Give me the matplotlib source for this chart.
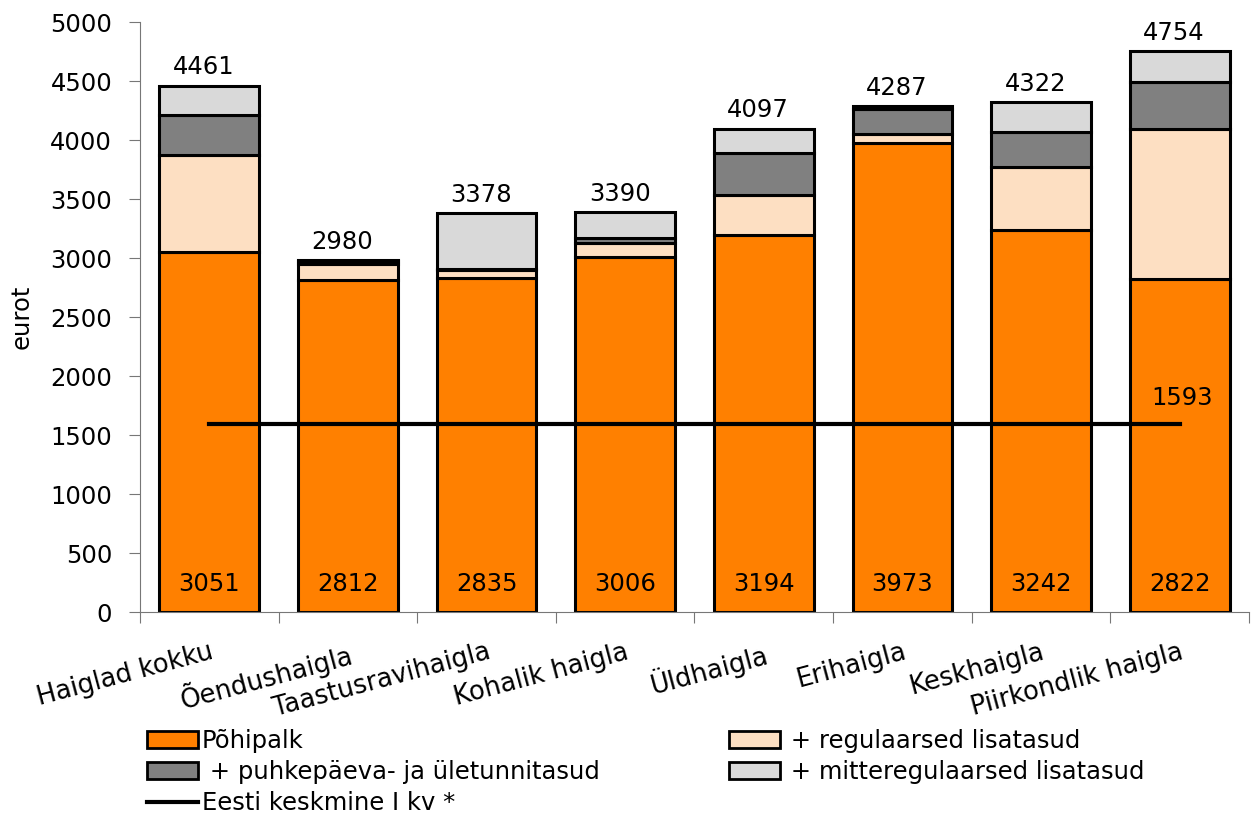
import numpy as np
import matplotlib
matplotlib.use("Agg")
from matplotlib import pyplot as plt
from matplotlib.patches import Patch
from matplotlib.lines import Line2D

# haiglate keskmine brutokuupalk komponentide kaupa
haiglad = ["Haiglad kokku", "Õendushaigla", "Taastusravihaigla", "Kohalik haigla",
           "Üldhaigla", "Erihaigla", "Keskhaigla", "Piirkondlik haigla"]
pohipalk = [3051, 2812, 2835, 3006, 3194, 3973, 3242, 2822]
regulaarsed = [822, 140, 65, 120, 340, 75, 532, 1274]
puhkepaeva = [339, 20, 10, 44, 358, 215, 291, 393]
kokku = [4461, 2980, 3378, 3390, 4097, 4287, 4322, 4754]
mitteregulaarsed = [k - p - r - u for k, p, r, u in zip(kokku, pohipalk, regulaarsed, puhkepaeva)]
eesti_keskmine = 1593

plt.rcParams["font.family"] = ["DejaVu Sans"]
fs = 17.5

fig = plt.figure(figsize=(12.54, 8.18), dpi=100)
ax = fig.add_axes([0.1116, 0.2518, 0.8844, 0.7212])

x = np.arange(len(haiglad))
laius = 0.72
serv = dict(edgecolor="black", linewidth=2.2)

ax.bar(x, pohipalk, laius, color="#FF8000", **serv)
alus = np.array(pohipalk)
ax.bar(x, regulaarsed, laius, bottom=alus, color="#FDDFC2", **serv)
alus = alus + regulaarsed
ax.bar(x, puhkepaeva, laius, bottom=alus, color="#808080", **serv)
alus = alus + puhkepaeva
ax.bar(x, mitteregulaarsed, laius, bottom=alus, color="#D9D9D9", **serv)

for i in x:
    ax.text(i - 0.04, kokku[i] + 55, str(kokku[i]), ha="center", va="bottom", fontsize=fs)
    ax.text(i, 240, str(pohipalk[i]), ha="center", va="center", fontsize=fs)

ax.plot([x[0], x[-1]], [eesti_keskmine, eesti_keskmine], color="black", linewidth=3)
ax.text(x[-1] + 0.02, eesti_keskmine + 120, str(eesti_keskmine), ha="center", va="bottom", fontsize=fs)

ax.set_xlim(-0.5, len(haiglad) - 0.5)
ax.set_ylim(0, 5000)
ax.set_yticks(range(0, 5001, 500))
ax.tick_params(axis="y", labelsize=fs, length=8, color="#777777", pad=12)
ax.set_ylabel("eurot", fontsize=fs, labelpad=12)

ax.set_xticks(np.append(x - 0.5, x[-1] + 0.5))
ax.set_xticklabels([])
ax.tick_params(axis="x", length=8, color="#777777", direction="out")
for i, nimi in enumerate(haiglad):
    ax.text(i, -230, nimi, rotation=15, rotation_mode="anchor", ha="right", va="top",
            fontsize=18.5)

for s in ["top", "right"]:
    ax.spines[s].set_visible(False)
ax.spines["left"].set_color("#777777")
ax.spines["bottom"].set_color("#777777")

kasitsejad = [
    Patch(facecolor="#FF8000", edgecolor="black", linewidth=2, label="Põhipalk"),
    Patch(facecolor="#808080", edgecolor="black", linewidth=2, label=" + puhkepäeva- ja ületunnitasud"),
    Line2D([], [], color="black", linewidth=3, label="Eesti keskmine I kv *"),
    Patch(facecolor="#FDDFC2", edgecolor="black", linewidth=2, label=" + regulaarsed lisatasud"),
    Patch(facecolor="#D9D9D9", edgecolor="black", linewidth=2, label=" + mitteregulaarsed lisatasud"),
]
fig.legend(handles=kasitsejad, loc="upper left", bbox_to_anchor=(0.1, 0.135), ncol=2,
           frameon=False, fontsize=fs, handlelength=2.1, handletextpad=0.15,
           columnspacing=5.3, labelspacing=0.28)

fig.savefig("out.png", dpi=100)
